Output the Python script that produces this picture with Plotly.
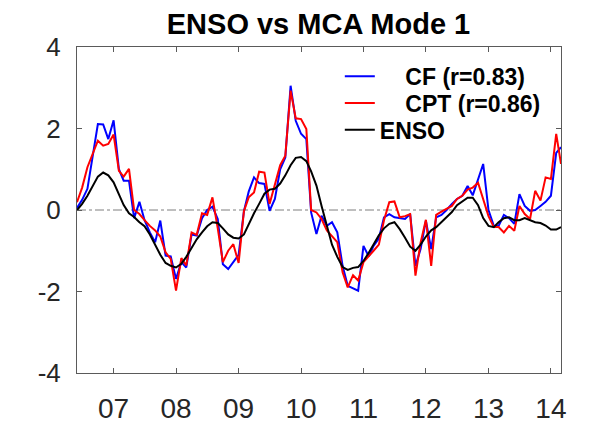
import pandas as pd
import plotly.graph_objects as go

# monthly series, Jun 2006 - Mar 2014
months = pd.date_range('2006-06-01', periods=94, freq='MS')

cf = [0.05, 0.25, 0.52, 1.3, 2.11, 2.1, 1.74, 2.2, 1.0, 0.72,
      0.72, -0.2, 0.2, -0.25, -0.55, -0.79, -0.26, -1.12, -1.14, -1.69,
      -1.28, -1.41, -0.6, -0.63, -0.2, 0.0, 0.08, -0.22, -1.33, -1.45,
      -1.28, -1.1, -0.03, 0.45, 0.8, 0.66, 0.64, -0.02, 0.27, 1.0,
      1.29, 3.05, 2.19, 1.87, 1.74, -0.06, -0.59, -0.14, -0.39, -0.3,
      -0.55, -1.37, -1.86, -1.92, -1.98, -0.88, -1.14, -0.88, -0.7, -0.18,
      -0.1, -0.18, -0.2, -0.22, -0.1, -1.37, -0.96, -0.26, -0.96, -0.18,
      -0.12, 0.0, 0.15, 0.27, 0.35, 0.59, 0.36, 0.75, 1.13, 0.0,
      -0.39, -0.39, -0.12, -0.2, -0.34, 0.39, 0.1, -0.02, 0.0, 0.1,
      0.2, 0.35, 1.4, 1.54]

cpt = [0.19, 0.55, 1.05, 1.4, 1.70, 1.58, 1.62, 1.85, 0.96, 0.82,
       1.01, 0.0, -0.1, -0.25, -0.39, -0.5, -0.65, -1.04, -1.2, -1.98,
       -1.18, -1.36, -0.55, -0.61, -0.08, -0.12, 0.31, -0.45, -1.28, -1.0,
       -0.84, -1.3, -0.03, 0.31, 0.43, 0.94, 0.92, 0.15, 0.6, 1.1,
       1.33, 2.93, 2.25, 2.23, 1.99, 0.0, -0.06, -0.22, -0.5, -0.65,
       -0.79, -1.53, -1.90, -1.6, -1.73, -1.28, -1.12, -1.0, -0.85, -0.25,
       0.19, 0.21, -0.18, -0.15, -0.1, -1.61, -0.8, -0.24, -1.37, -0.12,
       -0.04, 0.02, 0.1, 0.27, 0.35, 0.5, 0.55, 0.67, 0.25, -0.15,
       -0.42, -0.42, -0.55, -0.39, -0.51, 0.1, -0.1, -0.22, 0.47, 0.23,
       0.80, 0.76, 1.87, 1.13]

enso = [0.0, 0.15, 0.35, 0.6, 0.82, 0.92, 0.85, 0.68, 0.4, 0.12,
        -0.08, -0.17, -0.3, -0.4, -0.6, -0.85, -1.1, -1.3, -1.37, -1.41,
        -1.32, -1.15, -0.92, -0.72, -0.55, -0.4, -0.3, -0.32, -0.45, -0.6,
        -0.68, -0.7, -0.6, -0.35, -0.08, 0.15, 0.4, 0.5, 0.52, 0.65,
        0.85, 1.1, 1.28, 1.3, 1.2, 0.95, 0.6, 0.1, -0.4, -0.85,
        -1.15, -1.4, -1.47, -1.42, -1.4, -1.25, -1.05, -0.85, -0.62, -0.45,
        -0.34, -0.3, -0.47, -0.68, -0.9, -1.0, -0.85, -0.65, -0.5, -0.42,
        -0.3, -0.18, -0.05, 0.12, 0.22, 0.3, 0.3, 0.12, -0.2, -0.39,
        -0.42, -0.3, -0.2, -0.18, -0.25, -0.25, -0.2, -0.25, -0.3, -0.32,
        -0.38, -0.48, -0.48, -0.42]

year_ticks = pd.date_range('2007-01-01', periods=8, freq='YS')
year_labels = ['07', '08', '09', '10', '11', '12', '13', '14']
y_ticks = [-4, -2, 0, 2, 4]
y_labels = ['-4', '-2', '0', '2', '4']

font = 'Liberation Sans, Arial, sans-serif'
axis_col = '#5a5a5a'
nb = '\u00a0'

fig = go.Figure()

# dash-dot zero line
fig.add_trace(go.Scatter(x=[months[0], months[-1]], y=[0, 0], mode='lines',
                         line=dict(color='#7f7f7f', width=1, dash='dashdot'),
                         showlegend=False, hoverinfo='skip'))

fig.add_trace(go.Scatter(x=months, y=cf, mode='lines', name=nb * 4 + 'CF (r=0.83)',
                         line=dict(color='#0000ff', width=2), legend='legend'))
fig.add_trace(go.Scatter(x=months, y=cpt, mode='lines', name=nb * 4 + 'CPT (r=0.86)',
                         line=dict(color='#ff0000', width=2), legend='legend2'))
fig.add_trace(go.Scatter(x=months, y=enso, mode='lines', name='ENSO',
                         line=dict(color='#000000', width=2), legend='legend3'))

leg = dict(x=0.543, xanchor='left', yanchor='middle', bgcolor='rgba(0,0,0,0)', borderwidth=0,
           font=dict(family=font, size=23, color='#000000', weight='bold'))

# the page adds an 8px body margin, so the margins are 8px smaller than the target
fig.update_layout(
    width=600, height=426,
    margin=dict(l=69, r=47, t=39, b=61),
    paper_bgcolor='white', plot_bgcolor='white',
    title=dict(text='ENSO vs MCA Mode 1', x=0.5175, xanchor='center',
               y=1 - 16 / 426, yanchor='middle',
               font=dict(family=font, size=29, color='#000000', weight='bold')),
    legend=dict(leg, y=0.910),
    legend2=dict(leg, y=0.828),
    legend3=dict(leg, y=0.746),
    showlegend=True,
)

fig.update_xaxes(range=[months[0], months[-1]], tickvals=year_ticks, ticktext=year_labels,
                 showgrid=False, zeroline=False, showline=True, linecolor=axis_col,
                 linewidth=1, mirror='ticks', ticks='inside', ticklen=5, tickcolor=axis_col,
                 ticklabelstandoff=10, automargin=False,
                 tickfont=dict(family=font, size=28, color='#262626'))
fig.update_yaxes(range=[-4, 4], tickvals=y_ticks, ticktext=y_labels, showgrid=False,
                 zeroline=False, showline=True, linecolor=axis_col, linewidth=1,
                 mirror='ticks', ticks='inside', ticklen=5, tickcolor=axis_col,
                 ticklabelstandoff=10, automargin=False,
                 tickfont=dict(family=font, size=26, color='#262626'))

fig.write_html("out.html")
